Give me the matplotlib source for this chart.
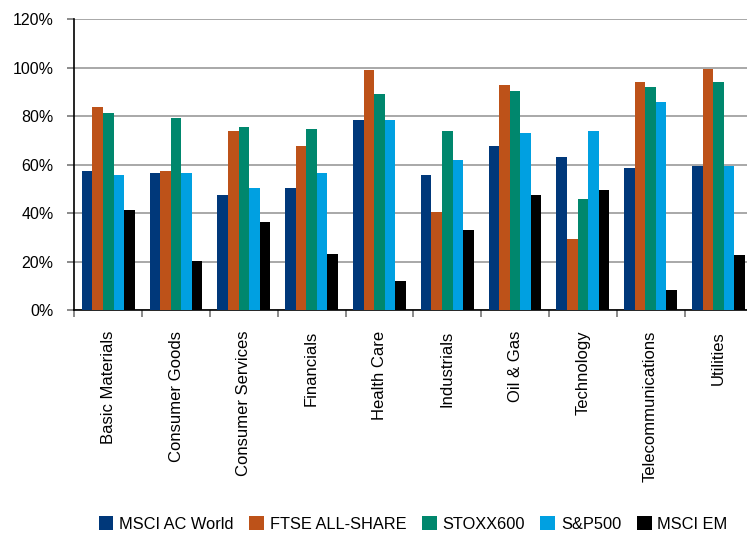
import matplotlib
matplotlib.use('Agg')
import matplotlib.pyplot as plt
import numpy as np
from matplotlib.ticker import FixedLocator, PercentFormatter

plt.rcParams['font.family'] = ['Liberation Sans', 'DejaVu Sans']

sectors = ['Basic Materials', 'Consumer Goods', 'Consumer Services', 'Financials',
           'Health Care', 'Industrials', 'Oil & Gas', 'Technology',
           'Telecommunications', 'Utilities']
series_names = ['MSCI AC World', 'FTSE ALL-SHARE', 'STOXX600', 'S&P500', 'MSCI EM']
msci_acwi = [57.4, 56.6, 47.5, 50.4, 78.4, 55.7, 67.7, 63.2, 58.6, 59.4]
ftse_all = [83.8, 57.4, 73.9, 67.7, 99.1, 40.5, 92.9, 29.3, 94.1, 99.5]
stoxx600 = [81.3, 79.3, 75.5, 74.7, 89.2, 73.9, 90.4, 45.8, 92.1, 94.1]
sp500 = [55.7, 56.6, 50.4, 56.6, 78.4, 61.9, 73.1, 73.9, 85.9, 59.4]
msci_em = [41.3, 20.2, 36.3, 23.1, 12.0, 33.0, 47.5, 49.5, 8.3, 22.7]
colors = ['#00387A', '#BD5219', '#00876D', '#00A0E1', '#000000']

all_series = [msci_acwi, ftse_all, stoxx600, sp500, msci_em]

fig = plt.figure(figsize=(7.47, 5.36), dpi=100)
ax = fig.add_axes([0.0995, 0.4216, 0.9076, 0.5424])

x = np.arange(len(sectors))
w = 0.156
for i, (vals, name, c) in enumerate(zip(all_series, series_names, colors)):
    ax.bar(x + (i - 2) * w, vals, width=w, color=c, label=name, zorder=3)

ax.set_xlim(-0.5, len(sectors) - 0.5)
ax.set_ylim(0, 120)
ax.set_yticks(np.arange(0, 121, 20))
ax.yaxis.set_major_formatter(PercentFormatter(decimals=0))
ax.grid(axis='y', color='#999999', linewidth=1.2, zorder=0)

ax.set_xticks(x)
ax.set_xticklabels(sectors, rotation=90, fontsize=12, va='top', ha='center')
ax.xaxis.set_minor_locator(FixedLocator(np.arange(-0.5, len(sectors), 1.0)))
ax.tick_params(axis='x', which='major', length=0, pad=15)
ax.tick_params(axis='x', which='minor', length=5, color='#777777', width=1.2)
ax.tick_params(axis='y', length=5, color='#777777', width=1.2, labelsize=11.5, pad=10)

for s in ['top', 'right']:
    ax.spines[s].set_visible(False)
ax.spines['left'].set_color('black')
ax.spines['bottom'].set_color('black')
ax.spines['left'].set_linewidth(1.2)
ax.spines['bottom'].set_linewidth(1.2)

fig.legend(loc='center', bbox_to_anchor=(0.553, 0.022), ncol=5, frameon=False,
           fontsize=11.8, handlelength=0.9, handleheight=0.9, handletextpad=0.35,
           columnspacing=0.95)

plt.savefig('out.png', dpi=100)
